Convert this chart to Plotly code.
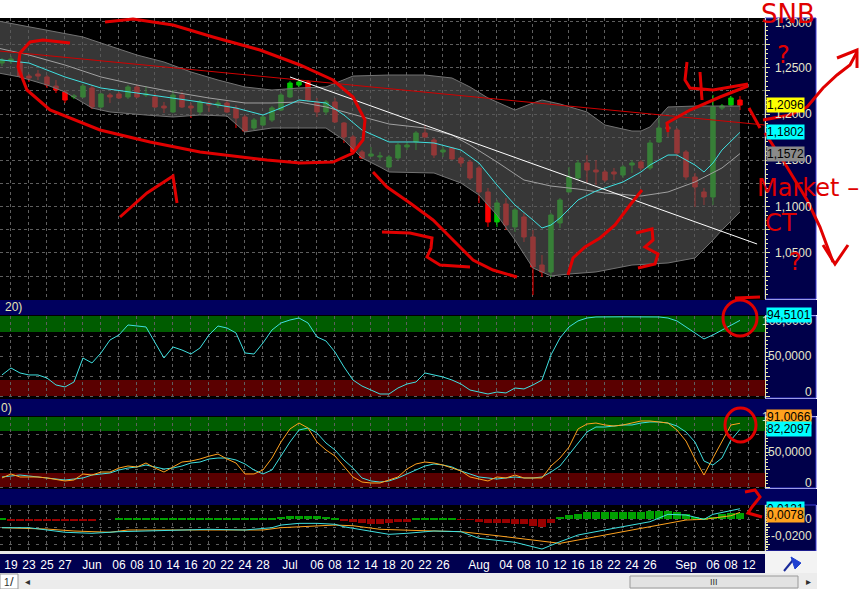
import plotly.graph_objects as go

W, H = 865, 589
FONT = "Liberation Sans"

# ------------------------------------------------------------------ data
# EUR/CHF daily bars, index 1 = 18 May 2011 ... 83 = 9 Sep 2011 (weekdays)
bar_idx = list(range(1, 84))
open_ = [1.2551, 1.2573, 1.2562, 1.2410, 1.2432, 1.2400, 1.2302, 1.2238, 1.2184, 1.2184,
         1.2281, 1.2076, 1.2205, 1.2216, 1.2184, 1.2292, 1.2205, 1.2184, 1.2086, 1.2022,
         1.2205, 1.2086, 1.2022, 1.2119, 1.2097, 1.2119, 1.2065, 1.1968, 1.1849, 1.1881,
         1.1935, 1.2043, 1.2184, 1.2313, 1.2346, 1.2130, 1.2022, 1.2130, 1.1903, 1.1752,
         1.1590, 1.1546, 1.1536, 1.1428, 1.1525, 1.1644, 1.1698, 1.1795, 1.1719, 1.1590,
         1.1633, 1.1525, 1.1482, 1.1417, 1.1158, 1.0834, 1.1028, 1.0780, 1.0888, 1.0672,
         1.0369, 1.0294, 1.0823, 1.1158, 1.1309, 1.1471, 1.1395, 1.1374, 1.1374, 1.1341,
         1.1449, 1.1482, 1.1417, 1.1698, 1.1860, 1.1827, 1.1590, 1.1320, 1.1158, 1.1104,
         1.2065, 1.2097, 1.2151]
high = [1.2605, 1.2626, 1.2637, 1.2432, 1.2475, 1.2421, 1.2367, 1.2259, 1.2216, 1.2324,
        1.2313, 1.2227, 1.2227, 1.2238, 1.2313, 1.2313, 1.2302, 1.2227, 1.2130, 1.2259,
        1.2238, 1.2119, 1.2151, 1.2140, 1.2151, 1.2151, 1.2097, 1.1989, 1.1957, 1.1989,
        1.2086, 1.2227, 1.2356, 1.2367, 1.2367, 1.2173, 1.2151, 1.2173, 1.1914, 1.1773,
        1.1611, 1.1644, 1.1590, 1.1557, 1.1687, 1.1698, 1.1816, 1.1881, 1.1741, 1.1644,
        1.1644, 1.1536, 1.1503, 1.1438, 1.1201, 1.1071, 1.1093, 1.0985, 1.0931, 1.0747,
        1.0477, 1.0931, 1.1093, 1.1428, 1.1503, 1.1557, 1.1503, 1.1395, 1.1417, 1.1449,
        1.1503, 1.1503, 1.1719, 1.1957, 1.1881, 1.1849, 1.1611, 1.1363, 1.1201, 1.2205,
        1.2108, 1.2194, 1.2194]
low = [1.2518, 1.2540, 1.2389, 1.2346, 1.2367, 1.2281, 1.2227, 1.2119, 1.2162, 1.2173,
       1.2054, 1.2065, 1.2119, 1.2162, 1.2162, 1.2173, 1.2184, 1.2065, 1.2011, 1.2011,
       1.2065, 1.1957, 1.1989, 1.2022, 1.2065, 1.2011, 1.1849, 1.1806, 1.1827, 1.1870,
       1.1914, 1.2032, 1.2173, 1.2292, 1.2130, 1.1968, 1.1989, 1.1903, 1.1687, 1.1568,
       1.1514, 1.1536, 1.1503, 1.1417, 1.1503, 1.1611, 1.1611, 1.1741, 1.1525, 1.1536,
       1.1503, 1.1428, 1.1287, 1.1039, 1.0780, 1.0780, 1.0747, 1.0726, 1.0618, 1.0045,
       1.0240, 1.0240, 1.0769, 1.1158, 1.1287, 1.1255, 1.1233, 1.1266, 1.1287, 1.1309,
       1.1363, 1.1395, 1.1395, 1.1687, 1.1752, 1.1536, 1.1287, 1.0996, 1.1017, 1.1017,
       1.2043, 1.2076, 1.2043]
close = [1.2583, 1.2594, 1.2410, 1.2389, 1.2410, 1.2313, 1.2259, 1.2151, 1.2194, 1.2302,
         1.2076, 1.2216, 1.2184, 1.2173, 1.2292, 1.2184, 1.2216, 1.2076, 1.2065, 1.2205,
         1.2076, 1.2065, 1.2130, 1.2097, 1.2119, 1.2022, 1.1957, 1.1816, 1.1935, 1.1968,
         1.2065, 1.2205, 1.2335, 1.2346, 1.2151, 1.2022, 1.2130, 1.1914, 1.1752, 1.1590,
         1.1525, 1.1568, 1.1546, 1.1536, 1.1665, 1.1665, 1.1795, 1.1752, 1.1557, 1.1611,
         1.1514, 1.1471, 1.1309, 1.1158, 1.0834, 1.1039, 1.0801, 1.0963, 1.0672, 1.0348,
         1.0294, 1.0909, 1.1071, 1.1320, 1.1471, 1.1395, 1.1374, 1.1287, 1.1352, 1.1428,
         1.1471, 1.1417, 1.1687, 1.1849, 1.1838, 1.1579, 1.1320, 1.1212, 1.1104, 1.2076,
         1.2086, 1.2173, 1.2096]

# Bollinger bands, middle (grey) and EMA (cyan), read at selected bars
bb_upper_idx = [0, 6, 10, 13, 16, 19, 22, 25, 28, 31, 34, 37, 39, 40, 44, 48, 51, 53, 55, 57,
                58, 60, 61, 63, 66, 68, 71, 72, 73, 75, 78, 83]
bb_upper = [1.3015, 1.2907, 1.2832, 1.2734, 1.2637, 1.2562, 1.2454, 1.2367, 1.2292, 1.2259,
            1.2281, 1.2292, 1.2367, 1.2410, 1.2421, 1.2421, 1.2389, 1.2292, 1.2173, 1.2086,
            1.2043, 1.2119, 1.2151, 1.2108, 1.2022, 1.1881, 1.1816, 1.1816, 1.1860, 1.2076,
            1.2086, 1.2086]
bb_lower_idx = [0, 3, 6, 8, 11, 13, 17, 20, 23, 26, 28, 31, 34, 37, 39, 41, 43, 44, 49, 52,
                54, 56, 58, 60, 62, 64, 67, 71, 75, 78, 80, 81, 83]
bb_lower = [1.2454, 1.2400, 1.2313, 1.2238, 1.2065, 1.2022, 1.1989, 1.1968, 1.1989, 1.1978,
            1.1806, 1.1849, 1.1849, 1.1849, 1.1719, 1.1525, 1.1428, 1.1374, 1.1363, 1.1255,
            1.1125, 1.0909, 1.0639, 1.0337, 1.0251, 1.0272, 1.0294, 1.0369, 1.0391, 1.0445,
            1.0639, 1.0747, 1.0942]
sma_idx = [0, 4, 8, 12, 16, 20, 24, 28, 31, 34, 37, 41, 44, 48, 51, 53, 56, 59, 62, 65,
           68, 72, 75, 78, 81, 83]
sma = [1.2724, 1.2637, 1.2529, 1.2400, 1.2313, 1.2238, 1.2173, 1.2119, 1.2119, 1.2130,
       1.2076, 1.1968, 1.1892, 1.1849, 1.1773, 1.1665, 1.1482, 1.1287, 1.1222, 1.1190,
       1.1147, 1.1114, 1.1158, 1.1266, 1.1417, 1.1572]
ema_idx = [0, 4, 8, 12, 16, 20, 23, 27, 30, 32, 34, 37, 39, 41, 44, 47, 49, 52, 54, 56,
           58, 60, 61, 62, 63, 65, 67, 70, 72, 73, 75, 76, 78, 79, 80, 81, 83]
ema = [1.2594, 1.2551, 1.2400, 1.2281, 1.2227, 1.2173, 1.2130, 1.2065, 1.1989, 1.2065,
       1.2151, 1.2119, 1.1989, 1.1827, 1.1698, 1.1698, 1.1687, 1.1611, 1.1471, 1.1233,
       1.1017, 1.0855, 1.0769, 1.0801, 1.0877, 1.1071, 1.1168, 1.1266, 1.1374, 1.1449,
       1.1557, 1.1557, 1.1449, 1.1374, 1.1471, 1.1611, 1.1802]

# trend lines drawn on the price panel (end points)
red_trend_idx = [0.78, 85.78]
red_trend_px = [1.2680, 1.1881]
white_trend_idx = [33, 84.9]
white_trend_px = [1.2400, 1.0596]

# RSI(20)
rsi_idx = [1, 2, 3, 4, 5, 6, 7, 8, 9, 10, 11, 12, 13, 14, 15, 16, 17, 19, 20, 21, 22, 23, 24,
           25, 26, 27, 28, 29, 30, 31, 32, 33, 34, 35, 36, 37, 38, 39, 40, 41, 42, 43, 44, 45,
           46, 47, 48, 49, 50, 51, 52, 53, 54, 55, 56, 57, 58, 59, 60, 61, 62, 63, 64, 65, 66,
           67, 70, 74, 75, 76, 77, 78, 79, 80, 81, 82, 83]
rsi = [26.3, 35, 28.8, 26.3, 26.3, 22.5, 13.8, 11.3, 17.5, 47.5,
       41.3, 53.8, 70, 76.3, 88.8, 87.5, 86.3,
       47.5, 61.3, 57.5, 52.5, 60, 76.3, 87.5, 85, 78.8, 53.8,
       52.5, 66.3, 82.5, 91.3, 95, 97.5, 91.3, 73.8, 68.8, 55,
       36.3, 20, 12.5, 7.5, 2.5, 2.5, 10, 15, 17.5, 28.8,
       26.3, 23.8, 20, 15, 7.5, 5, 2.5, 5, 3.8, 10,
       8.8, 13.8, 20, 51.3, 72.5, 86.3, 93.8, 97.5, 98.8,
       99, 98.8,
       97.5, 93.8, 86.3, 78.8, 71.3, 76.3, 82.5, 88.8, 94.5101]

# Stochastic (orange fast, cyan slow), one value per bar
stoch_k = [12.9, 18.6, 14.3, 14.3, 14.3, 12.9, 10.7, 8.6, 10, 18.6,
           17.1, 21.4, 21.4, 27.1, 30, 28.6, 34.3, 27.1, 21.4, 28.6,
           35.7, 37.1, 40, 44, 47.1, 40, 34.3, 18.6, 18.6, 24.3,
           41.4, 64.3, 82.9, 91.4, 84.3, 64.3, 52.9, 44.3, 28.6, 14.3,
           7.1, 5.7, 5.7, 10, 14.3, 25.7, 32.9, 35.7, 34.3, 31.4,
           27.1, 22.9, 14.3, 11.4, 8.6, 14.3, 12.9, 17.1, 12.9, 12.9,
           12.9, 30, 41.4, 57, 82.9, 90, 91.4, 88.6, 87.1, 88.6,
           91.4, 94.3, 94.3, 92.9, 91.4, 81.4, 65.7, 40, 17.1, 41.4,
           65.7, 88.6, 91.0066]
stoch_d = [14.3, 15.7, 17.1, 15.7, 14.3, 12.9, 11.4, 10, 11.4, 12.9,
           17.1, 18.6, 20, 24.3, 27.1, 28.6, 31.4, 28.6, 25.7, 27.1,
           30, 34.3, 35.7, 40, 41.4, 41.4, 38.6, 32.9, 24.3, 18.6,
           24.3, 44.3, 64.3, 81.4, 84.3, 77.1, 62.9, 52.9, 38.6, 27.1,
           12.9, 8.6, 7.1, 8.6, 12.9, 18.6, 24.3, 30, 32.9, 31.4,
           28.6, 22.9, 18.6, 14.3, 12.9, 11.4, 12.9, 14.3, 12.9, 12.9,
           14.3, 21.4, 30, 45.7, 62.9, 78.6, 85.7, 85.7, 87.1, 88.6,
           88.6, 91.4, 92.9, 92.9, 91.4, 87.1, 78.6, 64.3, 37.1, 31.4,
           41.4, 67.1, 82.2097]

# MACD
macd_idx = [1, 4, 6, 8, 11, 14, 17, 24, 28, 31, 32, 34, 36, 38, 39, 42, 44, 46, 49, 52,
            54, 58, 61, 63, 65, 69, 73, 75, 77, 79, 80, 83]
macd = [-0.0102, -0.0102, -0.0129, -0.0156, -0.0168, -0.0149, -0.0141, -0.0121, -0.0129, -0.0102,
        -0.0071, -0.0051, -0.0051, -0.0062, -0.0091, -0.0149, -0.0180, -0.0168, -0.0141, -0.0149,
        -0.0227, -0.0274, -0.0353, -0.0267, -0.0188, -0.0109, -0.0032, 0.0055, 0.0047, -0.0004,
        0.0055, 0.0121]
sig_idx = [1, 6, 9, 13, 15, 30, 32, 36, 38, 40, 43, 48, 52, 56, 60, 63, 65, 69, 73, 77,
           79, 82, 83]
sig = [-0.0102, -0.0118, -0.0141, -0.0156, -0.0129, -0.0129, -0.0102, -0.0079, -0.0071, -0.0079,
       -0.0121, -0.0138, -0.0149, -0.0196, -0.0247, -0.0286, -0.0247, -0.0168, -0.0091, -0.0012,
       -0.0004, 0.0039, 0.0078]
hist = [0.0003, -0.0012, -0.0012, -0.0012, -0.0012, -0.0012, -0.0012, -0.0012, -0.0012, -0.0012,
        -0.0012, 0.0, 0.0, 0.0008, 0.0008, 0.0008, 0.0008, 0.0008, 0.0008, 0.0008,
        0.0008, 0.0008, 0.0008, 0.0008, 0.0008, 0.0008, 0.0008, 0.0003, 0.0003, 0.0003,
        0.0015, 0.0025, 0.0035, 0.0038, 0.0038, 0.0032, 0.0025, 0.0012, -0.0015, -0.0040,
        -0.0050, -0.0055, -0.0055, -0.0050, -0.0040, -0.0030, 0.0006, 0.0006, 0.0006, 0.0006,
        0.0006, -0.0008, -0.0010, -0.0035, -0.0047, -0.0047, -0.0050, -0.0055, -0.0062, -0.0085,
        -0.0094, -0.0050, 0.0027, 0.0045, 0.0060, 0.0080, 0.0086, 0.0082, 0.0080, 0.0084,
        0.0086, 0.0086, 0.0090, 0.0094, 0.0094, 0.0080, 0.0060, 0.0027, 0.0010, 0.0027,
        0.0055, 0.0067, 0.0067]

# date axis
tick_idx = [2, 4, 6, 8, 11, 14, 16, 18, 20, 22, 24, 26, 28, 30, 33, 36, 38, 40, 42, 44,
            46, 48, 50, 54, 57, 59, 61, 63, 65, 67, 69, 71, 73, 77, 80, 82, 84]
tick_text = ["19", "23", "25", "27", "Jun", "06", "08", "10", "14", "16", "20", "22", "24", "28",
             "Jul", "06", "08", "12", "14", "18", "20", "22", "26", "Aug", "04", "08", "10", "12",
             "16", "18", "22", "24", "26", "Sep", "06", "08", "12"]

main_labels = [1.30, 1.25, 1.20, 1.15, 1.10, 1.05]
osc_labels = [100, 50, 0]
macd_labels = [0, -0.02]

# ------------------------------------------------------------------ layout helpers
XD = 765 / W
XR = [0.78, 85.78]


def dom(top, bot):
    return [1 - bot / H, 1 - top / H]


def px(x):
    return x / W


def py(y):
    return 1 - y / H


def fmt(v):
    return "0" if v == 0 else f"{v:.4f}".replace(".", ",")


GRID = "#5e5e5e"
TICK = "#e6e6a8"
CYAN = "#3fe0e0"
ORANGE = "#ffa21e"
NAVY = "#00005e"
BOXNAVY = "#00004a"
BORDER = "#3a3ad0"
INK = "#e00000"

fig = go.Figure()

# ---- price panel
fig.add_trace(go.Scatter(x=bb_upper_idx, y=bb_upper, mode="lines", xaxis="x", yaxis="y",
                         line=dict(color="#737373", width=1), hoverinfo="skip"))
fig.add_trace(go.Scatter(x=bb_lower_idx, y=bb_lower, mode="lines", xaxis="x", yaxis="y",
                         line=dict(color="#737373", width=1), fill="tonexty",
                         fillcolor="rgba(86,86,86,0.64)", hoverinfo="skip"))
fig.add_trace(go.Scatter(x=sma_idx, y=sma, mode="lines", xaxis="x", yaxis="y",
                         line=dict(color="#a0a0a0", width=1), hoverinfo="skip"))
fig.add_trace(go.Scatter(x=ema_idx, y=ema, mode="lines", xaxis="x", yaxis="y",
                         line=dict(color=CYAN, width=1), hoverinfo="skip"))
fig.add_trace(go.Candlestick(x=bar_idx, open=open_, high=high, low=low, close=close,
                             xaxis="x", yaxis="y", whiskerwidth=0,
                             increasing=dict(line=dict(color="#00c800", width=1), fillcolor="#00c800"),
                             decreasing=dict(line=dict(color="#ff0000", width=1), fillcolor="#ff0000"),
                             hoverinfo="skip"))
fig.add_trace(go.Scatter(x=red_trend_idx, y=red_trend_px, mode="lines", xaxis="x", yaxis="y",
                         line=dict(color="#d00000", width=1), hoverinfo="skip"))
fig.add_trace(go.Scatter(x=white_trend_idx, y=white_trend_px, mode="lines", xaxis="x", yaxis="y",
                         line=dict(color="#ffffff", width=1), hoverinfo="skip"))

# ---- RSI
fig.add_trace(go.Scatter(x=rsi_idx, y=rsi, mode="lines", xaxis="x2", yaxis="y2",
                         line=dict(color=CYAN, width=1), hoverinfo="skip"))
# ---- Stochastic
fig.add_trace(go.Scatter(x=bar_idx, y=stoch_d, mode="lines", xaxis="x3", yaxis="y3",
                         line=dict(color=CYAN, width=1), hoverinfo="skip"))
fig.add_trace(go.Scatter(x=bar_idx, y=stoch_k, mode="lines", xaxis="x3", yaxis="y3",
                         line=dict(color=ORANGE, width=1), hoverinfo="skip"))
# ---- MACD
fig.add_trace(go.Bar(x=bar_idx, y=hist, xaxis="x4", yaxis="y4", width=0.9,
                     marker=dict(color=["#00a000" if v >= 0 else "#9a0000" for v in hist],
                                 line=dict(width=0)), hoverinfo="skip"))
fig.add_trace(go.Scatter(x=sig_idx, y=sig, mode="lines", xaxis="x4", yaxis="y4",
                         line=dict(color=ORANGE, width=1), hoverinfo="skip"))
fig.add_trace(go.Scatter(x=macd_idx, y=macd, mode="lines", xaxis="x4", yaxis="y4",
                         line=dict(color=CYAN, width=1), hoverinfo="skip"))
# carrier for the date labels axis
fig.add_trace(go.Scatter(x=[tick_idx[0]], y=[0], mode="markers", xaxis="x5", yaxis="y4",
                         marker=dict(opacity=0), hoverinfo="skip", showlegend=False))

xcommon = dict(domain=[0, XD], range=XR, showgrid=True, gridcolor=GRID, griddash="dot",
               gridwidth=1, tick0=0, dtick=2, showticklabels=False, zeroline=False,
               showline=False, ticks="", fixedrange=True)


def ycommon(top, bot, rng, dtick, mdtick, anchor, tick0=0):
    return dict(domain=dom(top, bot), range=rng, side="right", anchor=anchor,
                showgrid=True, gridcolor=GRID, griddash="dot", tick0=tick0, dtick=dtick,
                showticklabels=False, ticks="outside", ticklen=4, tickcolor=TICK,
                showline=True, linecolor=TICK, linewidth=1, zeroline=False, fixedrange=True,
                minor=dict(dtick=mdtick, tick0=tick0, ticks="outside", ticklen=2,
                           tickcolor=TICK, showgrid=False))


y1 = ycommon(18, 299, [1.0002, 1.3037], 0.025, 0.005, "x", tick0=1.0)
y2 = ycommon(316, 398, [-2.5, 100], 25, 5, "x2")
y2["griddash"] = "3px,6px"
y3 = ycommon(417, 488, [-1.43, 100], 25, 5, "x3")
y3["griddash"] = "3px,6px"
y4 = ycommon(505, 551, [-0.0376, 0.01647], 0.01, 0.002, "x4")
y4["griddash"] = "3px,6px"

# ---- background shapes (paper)
shapes = []


def rect(x0, y0, x1, y1_, fill, line=None, layer="below"):
    shapes.append(dict(type="rect", xref="paper", yref="paper", x0=px(x0), x1=px(x1),
                       y0=py(y1_), y1=py(y0), fillcolor=fill, layer=layer,
                       line=dict(width=1 if line else 0, color=line or fill)))


rect(0, 18, 765, 553, "#000000")
for (a, b) in [(300, 315), (399, 416), (489, 505)]:
    rect(0, a, 817, b, NAVY)
for (a, b) in [(18, 299), (316, 398), (417, 488), (505, 551)]:
    rect(765, a, 816, b, BOXNAVY, BORDER)
rect(0, 551, 765, 554, "#e8e8e8")
rect(0, 554, 765, 573, "#000050")
rect(765, 551, 817, 573, "#f3f3f3")
rect(0, 573, 817, 589, "#ececec")
rect(630, 576, 798, 588, "#e2e2e2", "#9a9a9a")
rect(0, 574, 18, 589, "#ffffff", "#9a9a9a")

# bands in oscillators
for (yr, xr) in [("y2", "x2"), ("y3", "x3")]:
    shapes.append(dict(type="rect", xref=f"{xr} domain", yref=yr, x0=0, x1=1, y0=80, y1=100,
                       fillcolor="#005c00", line=dict(width=0), layer="below"))
    shapes.append(dict(type="rect", xref=f"{xr} domain", yref=yr, x0=0, x1=1, y0=0, y1=20,
                       fillcolor="#5a0000", line=dict(width=0), layer="below"))

# flag icon
shapes.append(dict(type="path", xref="paper", yref="paper",
                   path=f"M {px(784)},{py(571)} L {px(793)},{py(560)}",
                   line=dict(color="#1a2a9a", width=2), layer="above"))
shapes.append(dict(type="path", xref="paper", yref="paper",
                   path=f"M {px(791)},{py(557)} L {px(801)},{py(563)} L {px(795)},{py(569)} Z",
                   fillcolor="#2040d0", line=dict(color="#2040d0", width=1), layer="above"))

# ---- hand-drawn ink (pixel points of the strokes)
ink_strokes = [
    [(70, 43), (43, 40), (30, 42), (20, 53), (18, 67), (27, 90), (50, 110), (100, 130), (150, 142),
     (200, 152), (267, 160), (300, 163), (333, 162), (353, 153), (363, 140), (365, 120), (353, 97),
     (333, 80), (300, 65), (260, 50), (213, 37), (173, 25), (133, 19), (105, 22)],
    [(120, 217), (147, 193), (173, 176), (177, 203)],
    [(373, 172), (387, 187), (410, 203), (433, 220), (453, 240), (473, 260), (493, 270), (517, 277)],
    [(382, 232), (410, 233), (432, 238), (431, 248), (427, 257), (440, 265), (470, 267)],
    [(568, 275), (573, 258), (585, 247), (600, 238), (615, 225), (630, 205), (642, 190)],
    [(636, 233), (652, 229), (653, 240), (645, 247), (658, 254), (655, 264), (638, 268)],
    [(668, 132), (667, 123), (690, 110), (720, 97), (748, 86)],
    [(687, 62), (685, 80), (690, 88), (713, 90), (748, 84)],
    [(700, 72), (702, 100)],
    [(749, 108), (760, 128)],
    [(763, 120), (790, 115), (807, 107), (823, 88), (837, 75), (850, 65), (857, 52)],
    [(837, 58), (857, 50), (857, 68)],
    [(765, 133), (787, 167), (807, 200), (820, 227), (833, 262)],
    [(823, 245), (835, 264), (848, 245)],
    [(735, 298), (760, 297)],
    [(745, 492), (755, 490), (760, 497), (752, 507), (748, 513), (762, 517)],
]
for pts in ink_strokes:
    path = "M " + " L ".join(f"{px(x)},{py(y)}" for x, y in pts)
    shapes.append(dict(type="path", xref="paper", yref="paper", path=path,
                       line=dict(color=INK, width=3), layer="above"))
for (x0, y0, x1, y1_) in [(723, 300, 757, 336), (725, 408, 756, 442)]:
    shapes.append(dict(type="circle", xref="paper", yref="paper", x0=px(x0), x1=px(x1),
                       y0=py(y1_), y1=py(y0), line=dict(color=INK, width=3), layer="above"))

# ---- annotations
ann = []
LBL = dict(family=FONT, size=12, color="#e6e6cc")


def axlabel(v, yref, text, yshift=0):
    ann.append(dict(x=px(814), xref="paper", y=v, yref=yref, text=text, showarrow=False,
                    xanchor="right", yanchor="middle", font=LBL, yshift=yshift))


def valbox(v, yref, text, bg, yshift=0):
    ann.append(dict(x=px(766), xref="paper", y=v, yref=yref, text=text, showarrow=False,
                    xanchor="left", yanchor="middle", bgcolor=bg, borderpad=0,
                    font=dict(family=FONT, size=12, color="#000000"), yshift=yshift))


def note(x, y, text, font, xanchor="center"):
    ann.append(dict(x=px(x), y=py(y), xref="paper", yref="paper", text=text, showarrow=False,
                    xanchor=xanchor, yanchor="middle", font=font))


for v in main_labels:
    axlabel(v, "y", fmt(v), -2 if v == main_labels[0] else 0)
valbox(close[-1], "y", fmt(close[-1]), "#ffff00")
valbox(ema[-1], "y", fmt(ema[-1]), "#00ffff")
valbox(sma[-1], "y", fmt(sma[-1]), "#8a8a8a")

axlabel(100, "y2", fmt(100), -5)
axlabel(50, "y2", fmt(50))
axlabel(0, "y2", "0", 4)
valbox(rsi[-1], "y2", fmt(rsi[-1]), "#00ffff", 5)

axlabel(100, "y3", fmt(100))
axlabel(50, "y3", fmt(50))
axlabel(0, "y3", "0", 4)
valbox(stoch_k[-1], "y3", fmt(stoch_k[-1]), ORANGE, 6)
valbox(stoch_d[-1], "y3", fmt(stoch_d[-1]), "#00ffff")

axlabel(0, "y4", "0")
axlabel(-0.02, "y4", fmt(-0.02))
valbox(macd[-1], "y4", fmt(macd[-1]), "#00ffff")
valbox(sig[-1], "y4", fmt(sig[-1]), ORANGE, -3)

# panel captions
CAP = dict(family=FONT, size=12, color="#e6e6b4")
note(3, 307, "20)", CAP, "left")
note(-1, 408, "0)", CAP, "left")

# scrollbar glyphs
GLY = dict(family=FONT, size=10, color="#303030")
note(714, 582, "III", dict(GLY, size=9))
note(27, 581, "◂", GLY)
note(808, 581, "▸", GLY)
note(2, 582, "1", GLY, "left")
note(12, 581, "/", dict(GLY, size=13))

# handwritten words
INKF = dict(family="DejaVu Sans", size=24, color=INK)
note(788, 14, "SNB", dict(INKF, size=26))
note(783, 55, "?", INKF)
note(808, 188, "Market –", INKF)
note(781, 223, "CT", INKF)
note(795, 262, "?", INKF)

fig.update_layout(
    width=W, height=H, margin=dict(l=0, r=0, t=0, b=0),
    paper_bgcolor="#ffffff", plot_bgcolor="#000000",
    showlegend=False, hovermode=False, bargap=0,
    xaxis=dict(xcommon, anchor="y", rangeslider=dict(visible=False)),
    xaxis2=dict(xcommon, anchor="y2"),
    xaxis3=dict(xcommon, anchor="y3"),
    xaxis4=dict(xcommon, anchor="y4"),
    xaxis5=dict(domain=[0, XD], range=XR, overlaying="x4", anchor="y4", side="bottom",
                tickmode="array", tickvals=tick_idx, ticktext=tick_text,
                tickfont=dict(family=FONT, size=12, color="#ffffff"), showgrid=False,
                ticks="outside", ticklen=3, tickcolor="rgba(0,0,0,0)", zeroline=False,
                showline=False, fixedrange=True),
    yaxis=y1, yaxis2=y2, yaxis3=y3, yaxis4=y4,
    shapes=shapes, annotations=ann,
)

fig.write_html("out.html", config={"displayModeBar": False},
               post_script="document.body.style.margin='0px';")
